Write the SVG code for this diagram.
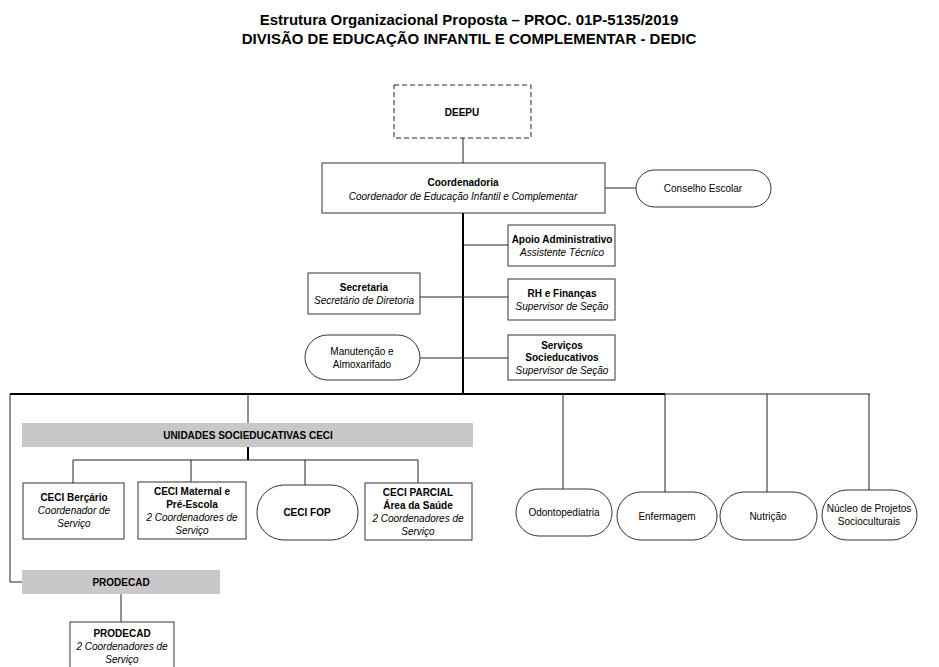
<svg xmlns="http://www.w3.org/2000/svg" width="939" height="667" viewBox="0 0 939 667">
<style>
text{font-family:"Liberation Sans",Arial,sans-serif;fill:#000;text-anchor:middle}
.t{font-size:15px;font-weight:bold}
.b{font-size:10px;font-weight:bold}
.n{font-size:10px}
.i{font-size:10px;font-style:italic}
.box{fill:#fff;stroke:#333;stroke-width:1}
.bar{fill:#c8c8c8;stroke:none}
.c{stroke:#222;stroke-width:1;fill:none}
.k{stroke:#000;stroke-width:2;fill:none}
</style>
<rect width="939" height="667" fill="#fff"/>
<text class="t" x="469" y="25">Estrutura Organizacional Proposta – PROC. 01P-5135/2019</text>
<text class="t" x="469" y="44">DIVISÃO DE EDUCAÇÃO INFANTIL E COMPLEMENTAR - DEDIC</text>
<g id="connectors">
<line class="c" x1="463" y1="138" x2="463" y2="163"/>
<line class="c" x1="605" y1="188" x2="636" y2="188"/>
<line class="k" x1="463" y1="213" x2="463" y2="395"/>
<line class="c" x1="463" y1="245" x2="508" y2="245"/>
<line class="c" x1="420" y1="297" x2="508" y2="297"/>
<line class="c" x1="420" y1="358" x2="508" y2="358"/>
<line class="k" x1="10" y1="394" x2="665" y2="394"/>
<line class="c" x1="665" y1="394" x2="870" y2="394"/>
<polyline class="c" points="10,394 10,582 22,582"/>
<line class="c" x1="121" y1="594" x2="121" y2="622"/>
<line class="c" x1="248" y1="394" x2="248" y2="423"/>
<line class="k" x1="248" y1="447" x2="248" y2="460"/>
<line class="c" x1="73" y1="460" x2="418" y2="460"/>
<line class="c" x1="73" y1="460" x2="73" y2="483"/>
<line class="c" x1="191" y1="460" x2="191" y2="482"/>
<line class="c" x1="305" y1="460" x2="305" y2="485"/>
<line class="c" x1="418" y1="460" x2="418" y2="483"/>
<line class="c" x1="563" y1="394" x2="563" y2="489"/>
<line class="c" x1="665" y1="394" x2="665" y2="492"/>
<line class="c" x1="767" y1="394" x2="767" y2="492"/>
<line class="c" x1="869" y1="394" x2="869" y2="490"/>
</g>
<g id="deepu">
<rect x="394" y="85" width="137" height="53" fill="#fff" stroke="#222" stroke-dasharray="5,3"/>
<text class="b" x="462" y="116">DEEPU</text>
</g>
<g id="coordenadoria">
<rect class="box" x="322" y="163" width="283" height="50"/>
<text class="b" x="463" y="186">Coordenadoria</text>
<text class="i" x="463" y="200">Coordenador de Educação Infantil e Complementar</text>
</g>
<g id="conselho">
<rect class="box" x="636" y="170" width="135" height="37" rx="18.5"/>
<text class="n" x="703" y="192">Conselho Escolar</text>
</g>
<g id="apoio">
<rect class="box" x="508" y="225" width="107" height="41"/>
<text class="b" x="562" y="243">Apoio Administrativo</text>
<text class="i" x="562" y="256">Assistente Técnico</text>
</g>
<g id="secretaria">
<rect class="box" x="308" y="273" width="112" height="41"/>
<text class="b" x="364" y="291">Secretaria</text>
<text class="i" x="364" y="304">Secretário de Diretoria</text>
</g>
<g id="rh">
<rect class="box" x="508" y="279" width="107" height="41"/>
<text class="b" x="562" y="297">RH e Finanças</text>
<text class="i" x="562" y="310">Supervisor de Seção</text>
</g>
<g id="manutencao">
<rect class="box" x="305" y="335" width="115" height="45" rx="22.5"/>
<text class="n" x="362" y="355">Manutenção e</text>
<text class="n" x="362" y="368">Almoxarifado</text>
</g>
<g id="servicos">
<rect class="box" x="508" y="335" width="107" height="45"/>
<text class="b" x="562" y="349">Serviços</text>
<text class="b" x="562" y="361">Socieducativos</text>
<text class="i" x="562" y="374">Supervisor de Seção</text>
</g>
<g id="unidades">
<rect class="bar" x="22" y="423" width="451" height="24"/>
<text class="b" x="248" y="439">UNIDADES SOCIEDUCATIVAS CECI</text>
</g>
<g id="ceci-bercario">
<rect class="box" x="23" y="483" width="101" height="56"/>
<text class="b" x="74" y="501">CECI Berçário</text>
<text class="i" x="74" y="514">Coordenador de</text>
<text class="i" x="74" y="527">Serviço</text>
</g>
<g id="ceci-maternal">
<rect class="box" x="138" y="482" width="108" height="57"/>
<text class="b" x="192" y="495">CECI Maternal e</text>
<text class="b" x="192" y="508">Pré-Escola</text>
<text class="i" x="192" y="521">2 Coordenadores de</text>
<text class="i" x="192" y="534">Serviço</text>
</g>
<g id="ceci-fop">
<rect class="box" x="257" y="485" width="101" height="55" rx="27"/>
<text class="b" x="307" y="516">CECI FOP</text>
</g>
<g id="ceci-parcial">
<rect class="box" x="365" y="483" width="107" height="57"/>
<text class="b" x="418" y="496">CECI PARCIAL</text>
<text class="b" x="418" y="509">Área da Saúde</text>
<text class="i" x="418" y="522">2 Coordenadores de</text>
<text class="i" x="418" y="535">Serviço</text>
</g>
<g id="odonto">
<rect class="box" x="516" y="489" width="96" height="47" rx="23"/>
<text class="n" x="564" y="516">Odontopediatria</text>
</g>
<g id="enfermagem">
<rect class="box" x="617" y="492" width="100" height="48" rx="24"/>
<text class="n" x="667" y="520">Enfermagem</text>
</g>
<g id="nutricao">
<rect class="box" x="720" y="492" width="97" height="48" rx="24"/>
<text class="n" x="768" y="520">Nutrição</text>
</g>
<g id="nucleo">
<rect class="box" x="822" y="490" width="95" height="50" rx="25"/>
<text class="n" x="869" y="512">Núcleo de Projetos</text>
<text class="n" x="869" y="525">Socioculturais</text>
</g>
<g id="prodecad-bar">
<rect class="bar" x="22" y="570" width="198" height="24"/>
<text class="b" x="121" y="586">PRODECAD</text>
</g>
<g id="prodecad">
<rect class="box" x="70" y="622" width="104" height="50"/>
<text class="b" x="122" y="637">PRODECAD</text>
<text class="i" x="122" y="650">2 Coordenadores de</text>
<text class="i" x="122" y="663">Serviço</text>
</g>
</svg>
